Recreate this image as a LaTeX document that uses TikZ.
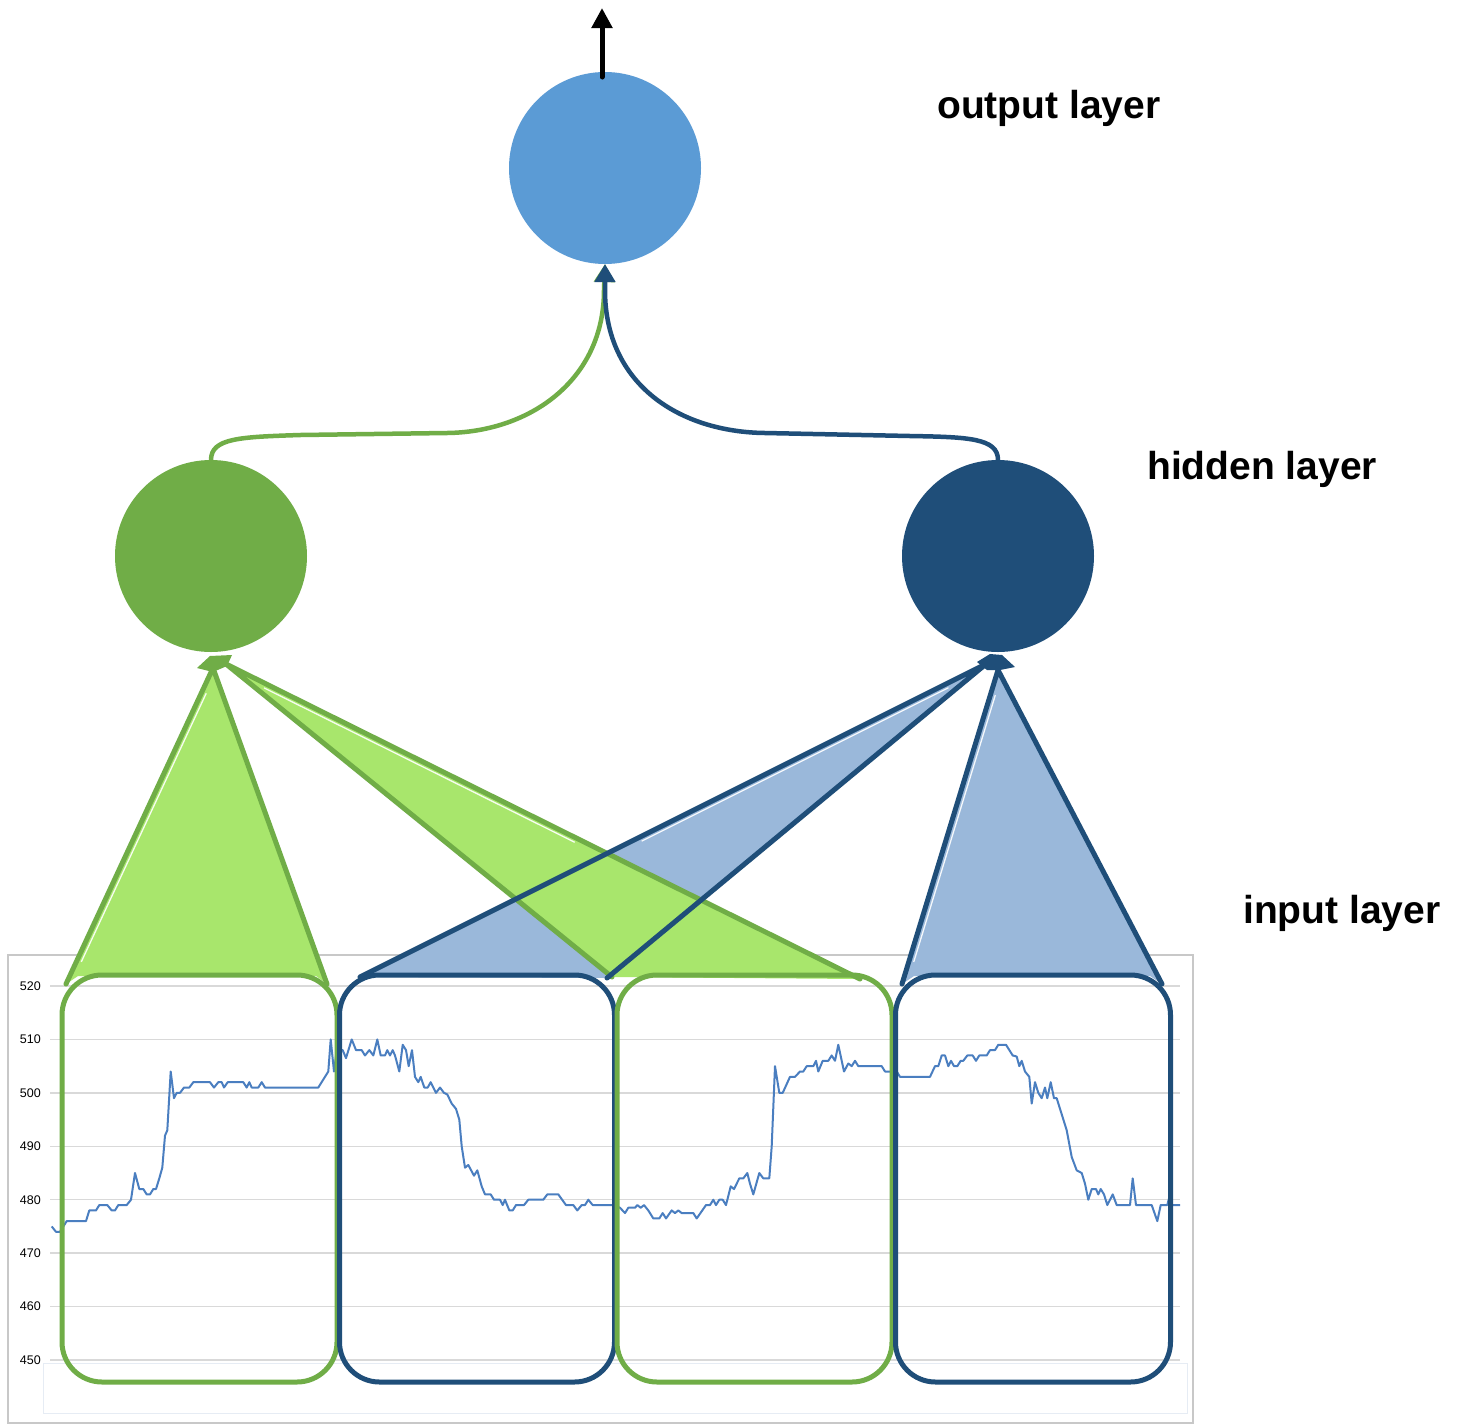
\documentclass[tikz,border=0pt]{standalone}
\usepackage{fontspec}
\setmainfont{Liberation Sans}
\usetikzlibrary{arrows.meta,calc}
\definecolor{outblue}{HTML}{5B9BD5}
\definecolor{hgreen}{HTML}{70AD47}
\definecolor{hblue}{HTML}{1F4E79}
\definecolor{lgreen}{HTML}{A8E66C}
\definecolor{lblue}{HTML}{9AB8DA}
\definecolor{gridc}{HTML}{D9D9D9}
\definecolor{framec}{HTML}{C8C8C8}
\definecolor{seriesc}{HTML}{4A7EC0}
\definecolor{innerc}{HTML}{E6ECF4}
\tikzset{
  neuron/.style={circle, inner sep=0pt, outer sep=0pt, minimum size=192pt},
  window/.style={rectangle, rounded corners=40pt, line width=5pt, minimum width=275pt, minimum height=407pt, inner sep=0pt, outer sep=0pt},
  wedgeline/.style={line width=5pt, line join=round, line cap=round},
  glint/.style={white, line width=1.3pt, opacity=0.9},
  conn/.style={line width=4.5pt, -{Triangle[width=20pt,length=18pt]}},
  ticklabel/.style={anchor=east, inner sep=0pt, font=\fontsize{12.5}{14}\selectfont},
  layerlabel/.style={anchor=base west, inner sep=0pt, font=\fontsize{39}{44}\selectfont\bfseries},
  gridline/.style={gridc, line width=1.5pt},
}
\begin{document}
\begin{tikzpicture}[x=1pt,y=-1pt]
\useasboundingbox (0,0) rectangle (1460,1425);
\fill[white] (0,0) rectangle (1460,1425);

% chart
\draw[framec, line width=1.5pt] (8,955) rectangle (1193,1423);
\draw[innerc, line width=1pt] (43,1363) rectangle (1187,1413);
\begin{scope}[shift={(0,3764.36)}, yscale=-5.343]
  \foreach \v in {520,510,500,490,480,470,460,450}{
    \draw[gridline] (50,\v) -- (1180,\v);
    \node[ticklabel] (tick\v) at (41,\v) {\v};
  }
  \draw[seriesc, line width=2pt, line join=round] plot coordinates {
  (51.7,475) (56,474) (60,474) (66.7,476) (86,476) (89.3,478) (96,478) (99.3,479) (107.3,479) (111.7,478) (115,478) (118.3,479) (126.7,479) (131,480) (135,485) (139.3,482) (143.3,482) (146.7,481) (150,481) (153.3,482) (156,482) (159.3,484) (162.3,486) (165,492) (167.3,493) (170.7,504) (174,499) (176.7,500) (180,500) (184,501) (189.3,501) (193.3,502) (210,502) (214,501) (218.3,502) (221.7,502) (224,501) (227.7,502) (243.3,502) (246.7,501) (249.3,502) (251.7,501) (258.3,501) (261.7,502) (265,501) (318.3,501) (328.3,504) (330.7,510) (334,504) (336.7,508) (342.7,508) (346,506.5) (351.7,510) (356,508) (361.7,508) (365,507) (369.3,508) (373.3,507) (377.3,510) (380.7,507) (385,507) (387.3,508) (390,507) (392.7,508) (395,507) (399.3,504) (402.7,509) (406,508) (408.7,505) (412,508) (415,503) (418.3,502) (420.7,503) (424.3,501) (427.7,501) (430.7,502) (436,500) (440,501) (444,500) (447.3,499.7) (451.7,498) (456,497) (459.3,495) (461.7,490) (465,486) (468.3,486.5) (474,484.5) (477.3,485.5) (481.7,482.5) (485,481) (490.7,481) (494,480) (500,480) (502.7,479) (505,480) (509.3,478) (512.7,478) (516,479) (524,479) (528.3,480) (543.3,480) (547.3,481) (558.3,481) (566,479) (573.3,479) (577.3,478) (581.7,479) (585,479) (588.3,480) (592.7,479) (613.3,479) (620,478.5) (625,477.5) (628.3,478.5) (635,478.5) (637.3,479) (640.7,478.5) (644,479) (648.3,478) (653.3,476.5) (659.3,476.5) (662.7,477.5) (666,476.5) (671.7,478) (675,477.5) (678.3,478) (681.7,477.5) (693.3,477.5) (696.7,476.5) (706,479) (710,479) (713.3,480) (716,479) (719.3,480) (722.7,480) (726,479) (730.7,482.5) (734,482) (739.3,484) (743.3,484) (747.3,485) (750,483) (753.3,481) (759.3,485) (763.3,484) (769.3,484) (771.7,490) (775,505) (779.3,500) (782.7,500) (790,503) (795,503) (800,504) (803.3,504) (806.7,505) (813.3,505) (816,506) (818.3,504) (822.7,506) (828.3,506) (831.7,507) (835,506) (838.3,509) (844,504) (848.3,505.5) (851.7,505) (855,506) (858.3,505) (881.7,505) (885,504) (896.7,504) (900,503) (930,503) (935,505) (938.3,505) (941.7,507) (945,507) (948.3,505) (951,506) (954,505) (957.3,505) (960.7,506) (963.3,506) (967.3,507) (972.7,507) (976,506) (979.3,507) (986.7,507) (990,508) (995,508) (998.3,509) (1006,509) (1012.7,507) (1016.7,506.8) (1019.3,505) (1021.7,506) (1025,504) (1029.3,503) (1031.7,498) (1035,502) (1038.3,500) (1041.7,499) (1045,501) (1047.3,499) (1050.7,502) (1054,499) (1056.7,499) (1061.7,496) (1066.7,493) (1071.7,488) (1076.7,485.5) (1081.7,485) (1085,483) (1088.3,480) (1091.7,482) (1096,482) (1098.3,481) (1100.7,482) (1104,481) (1107.3,479) (1112.7,481) (1116.7,479) (1130,479) (1132.7,484) (1136,479) (1151.7,479) (1157.3,476) (1160.7,479) (1167.3,479) (1170,481) (1171,479) (1180,479)};
\end{scope}

% wedge coordinates
\coordinate (g1a) at (213,668); \coordinate (g1l) at (66,984);  \coordinate (g1r) at (327,984);
\coordinate (g2a) at (226,664); \coordinate (g2l) at (612,977); \coordinate (g2r) at (860,979);
\coordinate (b1a) at (986,664); \coordinate (b1l) at (360,977); \coordinate (b1r) at (607,978);
\coordinate (b2a) at (998,670); \coordinate (b2l) at (902,984); \coordinate (b2r) at (1162,984);

% fills
\fill[lblue] (b1a) -- (b1l) -- (b1r) -- cycle;
\fill[lgreen] (g2a) -- (g2l) -- (g2r) -- (850,976) -- cycle;
\fill[lgreen] (g1a) -- (g1l) -- (78,976) -- (316,976) -- (g1r) -- cycle;
\fill[lblue] (b2a) -- (b2l) -- (914,976) -- (1150,976) -- (b2r) -- cycle;
% highlights
\draw[glint] ($(g1a)!0.08!(g1l)+(5,0)$) -- ($(g1a)!0.93!(g1l)+(5,0)$);
\draw[glint] ($(g2a)!0.06!(g2r)+(0,5)$) -- ($(g2a)!0.55!(g2r)+(0,5)$);
\draw[glint] ($(b1a)!0.06!(b1l)+(0,5)$) -- ($(b1a)!0.55!(b1l)+(0,5)$);
\draw[glint] ($(b2a)!0.08!(b2l)+(5,0)$) -- ($(b2a)!0.93!(b2l)+(5,0)$);
% outlines
\draw[wedgeline, hgreen] (g1l) -- (g1a) -- (g1r);
\draw[wedgeline, hgreen] (g2l) -- (g2a) -- (g2r);
\draw[wedgeline, hblue] (b1l) -- (b1a) -- (b1r);
\draw[wedgeline, hblue] (b2l) -- (b2a) -- (b2r);

% windows
\node[window, draw=hgreen] (w1) at (199.5,1178.5) {};
\node[window, draw=hblue]  (w2) at (477,1178.5) {};
\node[window, draw=hgreen] (w3) at (754.5,1178.5) {};
\node[window, draw=hblue]  (w4) at (1033,1178.5) {};

% neurons
\node[neuron, fill=outblue] (out) at (605,168) {};
\node[neuron, fill=hgreen] (hg) at (211,556) {};
\node[neuron, fill=hblue] (hb) at (998,556) {};

% apex arrowheads
\fill[hgreen] (197,668) -- (210,656) -- (232,655) -- (227,666) -- (213,672) -- cycle;
\fill[hblue] (977,662) -- (990,654) -- (1002,655) -- (1015,667) -- (1000,670) -- (987,670) -- cycle;

% connections to output
\draw[conn, hgreen] (hg.north) .. controls +(0,-22) and (240,437) .. (300,435) -- (447,433)
   .. controls (530,432) and (604,380) .. (604,290) -- (out.south);
\draw[conn, hblue] (hb.north) .. controls +(0,-22) and (968,437) .. (910,436) -- (765,433)
   .. controls (680,432) and (605,385) .. (605,290) -- (out.south);

% output arrow
\coordinate (outtip) at (602,8);
\draw[line width=5pt, line cap=round, -{Triangle[width=20pt,length=20pt]}] (602,77) -- (outtip);

% labels
\node[layerlabel] (lout) at (937,118) {output layer};
\node[layerlabel] (lhid) at (1147,479) {hidden layer};
\node[layerlabel] (linp) at (1243,923) {input layer};
\end{tikzpicture}
\end{document}
